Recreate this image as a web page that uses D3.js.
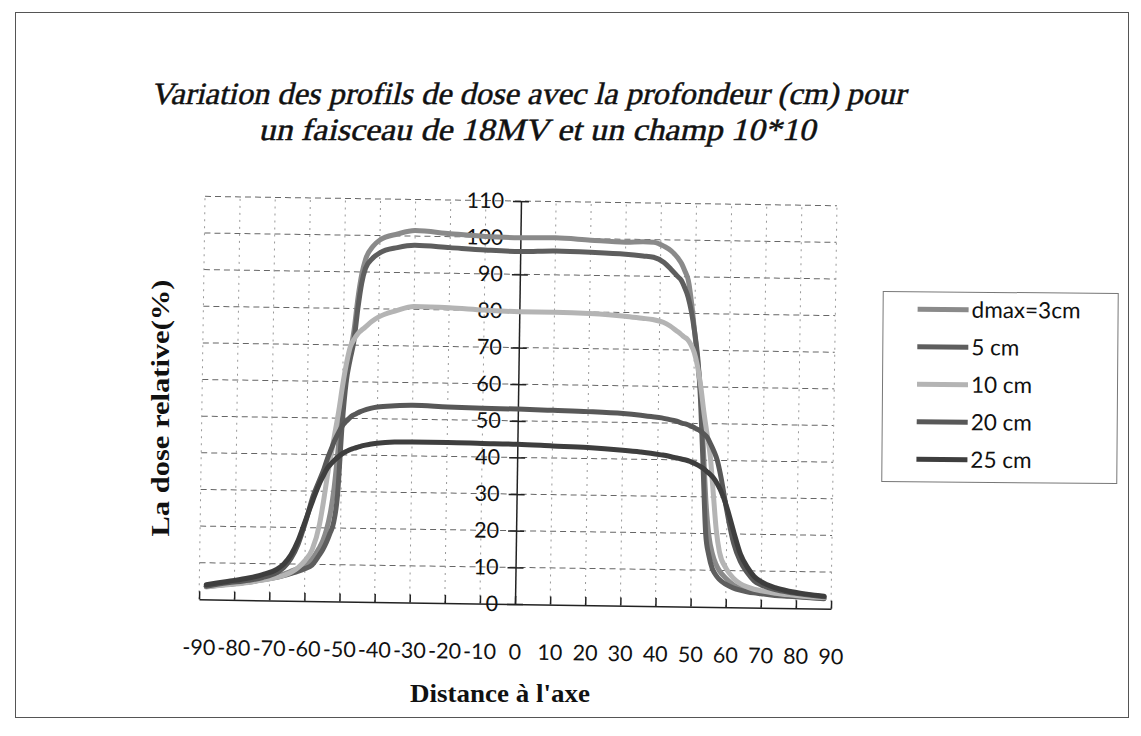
<!DOCTYPE html>
<html>
<head>
<meta charset="utf-8">
<script src="https://cdn.jsdelivr.net/npm/d3@7"></script>
<style>
  html, body { margin: 0; padding: 0; background: #fff; }
  svg { display: block; }
</style>
</head>
<body>
<script>
// Distance from the beam axis at which each profile is sampled
const positions = [-88,-82,-76,-72,-68,-66,-64,-62,-60,-58,-56,-55,-54,-53,-52,-51,-50,-49,-48,-47,-46,-45,-44,-42,-40,
  -35,-30,-20,-10,0,10,20,30,35,38,
  41,43,45,46,47,48,49,50,51,52,53,54,55,56,57,58,60,62,64,66,68,70,74,78,82,88];

// Relative dose (%) at each position, one array per depth
const doseDmax = [3.6,4.3,5,5.8,6.6,7.2,8,8.8,9.8,11.5,14.5,16.5,19.5,24,31,42,55,62,68,74,83,89.5,93.5,97,98.8,
  100.5,101.5,100.8,100.2,100,100.1,99.6,99.2,99.4,99.3,
  98.2,97,95,93.6,91.5,89,83,75,67,58,43,28,19,14.5,11.8,10,7.8,6.2,5.3,4.7,4.3,4,3.6,3.3,3.1,2.8];
const dose5 = [3.5,4.2,4.9,5.6,6.3,6.8,7.4,8,8.8,9.8,12.5,14,16,18.5,21.5,29,48,60,66,71,80,87,91,93.8,95.3,
  96.8,97.5,97,96.5,96.2,96.5,96.3,95.9,95.5,95.2,
  93.8,92,90,89,87,84.5,80.5,75,68,56,38,20,14,10.5,8.8,7.6,6.2,5.3,4.7,4.3,4,3.8,3.4,3.2,3,2.7];
const dose10 = [3.4,4.1,4.8,5.5,6.3,6.9,7.7,9,11,14,21,27,34,40,46,52,59,65,69.5,71.5,73,74,74.8,76.5,77.8,
  79.6,80.8,80.6,80.1,79.8,79.8,79.6,79,78.5,78.2,
  77.5,76.5,75.1,74.4,73.6,72.9,71.5,69.3,65.5,60,53,47,41,31,21,15,10.5,8,6.5,5.6,5,4.6,4,3.6,3.3,3];
const dose20 = [3.6,4.6,5.4,6.2,7.6,9,11.5,15.5,21.5,28.5,33.5,36,39,41.5,44,46,47.8,49,50,50.8,51.3,51.8,52.2,52.8,53.2,
  53.6,53.8,53.5,53.3,53.2,53,52.8,52.4,52,51.7,
  51.4,51,50.6,50.3,50,49.8,49.4,49,48.5,48,47.2,46.3,44.5,42.5,40,36,26,17.5,12.5,9.5,7.3,6.2,5,4.3,3.8,3.2];
const dose25 = [4,5,6,7,8.5,10,12.5,16.5,22,27.5,32.5,34.5,36.3,37.5,38.5,39.4,40.2,40.8,41.3,41.7,42,42.3,42.6,43,43.3,
  43.7,43.8,43.8,43.7,43.6,43.3,43,42.4,42,41.7,
  41.3,41,40.6,40.4,40.2,40,39.7,39.3,38.9,38.4,37.8,37,36.2,35.2,33.8,32,27,20.5,14.5,11,8.5,7.1,5.5,4.6,4,3.4];

const seriesNames = ["dmax=3cm", "5 cm", "10 cm", "20 cm", "25 cm"];
const seriesValues = [doseDmax, dose5, dose10, dose20, dose25];
const seriesColors = ["#8a8a8a", "#5e5e5e", "#b4b4b4", "#585858", "#3e3e3e"];

const xTicks = d3.range(-90, 91, 10);
const yTicks = d3.range(0, 111, 10);

const titleLines = ["Variation des profils de dose avec la profondeur (cm) pour",
                    "un faisceau de 18MV et un champ 10*10"];
const xTitle = "Distance à l'axe";
const yTitle = "La dose relative(%)";

const W = 1141, H = 736;
const svg = d3.select("body").append("svg").attr("width", W).attr("height", H);

// Outer chart frame
svg.append("rect")
  .attr("x", 15.5).attr("y", 12.5).attr("width", 1113).attr("height", 705)
  .attr("fill", "none").attr("stroke", "#555").attr("stroke-width", 1);

// Title: upright serif, slanted and narrowed
const sans = "Lato, 'Open Sans', sans-serif";
const serif = "'Liberation Serif', 'DejaVu Serif', serif";
const titleWidths = [755, 557];
const titleX = [528, 537];
const titleY = [104, 140];
titleLines.forEach((t, i) => {
  svg.append("g")
    .attr("transform", `translate(${titleX[i]},${titleY[i]}) skewX(-13)`)
    .append("text")
    .attr("text-anchor", "middle")
    .attr("font-family", serif)
    .attr("font-size", 31).attr("fill", "#111")
    .attr("stroke", "#111").attr("stroke-width", 0.5)
    .attr("textLength", titleWidths[i]).attr("lengthAdjust", "spacingAndGlyphs")
    .text(t);
});

// Plot area (slightly tilted, like the printed page)
const x = d3.scaleLinear().domain([-90, 90]).range([199, 831]);
const y = d3.scaleLinear().domain([0, 110]).range([604, 201]);

const plot = svg.append("g").attr("transform", `rotate(0.85 ${x(0)} ${y(0)})`);

// Grid
plot.append("g").selectAll("line").data(yTicks.filter(v => v > 0)).join("line")
  .attr("x1", x(-90)).attr("x2", x(90))
  .attr("y1", d => y(d)).attr("y2", d => y(d))
  .attr("stroke", "#666").attr("stroke-width", 1).attr("stroke-dasharray", "6 4");
plot.append("g").selectAll("line").data(xTicks.filter(v => v !== 0)).join("line")
  .attr("x1", d => x(d)).attr("x2", d => x(d))
  .attr("y1", y(0)).attr("y2", y(110))
  .attr("stroke", "#999").attr("stroke-width", 1).attr("stroke-dasharray", "2 5");

// X axis (ticks pointing up into the plot)
const xAxis = plot.append("g")
  .attr("transform", `translate(0,${y(0)})`)
  .call(d3.axisBottom(x).tickValues(xTicks).tickSizeInner(-8).tickSizeOuter(0).tickFormat(d => String(d)));
xAxis.select(".domain").attr("stroke", "#222").attr("stroke-width", 1.5);
xAxis.selectAll(".tick line").attr("stroke", "#222").attr("stroke-width", 1.5);
xAxis.selectAll(".tick text")
  .attr("y", 48).attr("dy", "0.35em")
  .attr("font-family", sans).attr("font-size", 21.5).attr("fill", "#111");

// Y axis at x = 0 with crossing ticks
const yAxis = plot.append("g")
  .attr("transform", `translate(${x(0)},0)`)
  .call(d3.axisLeft(y).tickValues(yTicks).tickSizeInner(8).tickSizeOuter(0).tickPadding(9).tickFormat(d => String(d)));
yAxis.select(".domain").attr("stroke", "#222").attr("stroke-width", 1.5);
yAxis.selectAll(".tick line").attr("x1", 8).attr("stroke", "#222").attr("stroke-width", 1.5);
yAxis.selectAll(".tick text")
  .attr("font-family", sans).attr("font-size", 21.5).attr("fill", "#111");

// Dose profiles
const line = d3.line()
  .x(d => x(d[0])).y(d => y(d[1]))
  .curve(d3.curveMonotoneX);
seriesValues.forEach((vals, i) => {
  plot.append("path")
    .datum(positions.map((p, j) => [p, vals[j]]))
    .attr("d", line)
    .attr("fill", "none")
    .attr("stroke", seriesColors[i])
    .attr("stroke-width", 5)
    .attr("stroke-linejoin", "round")
    .attr("stroke-linecap", "round");
});

// Axis titles
svg.append("text")
  .attr("x", 500).attr("y", 702)
  .attr("text-anchor", "middle")
  .attr("font-family", serif).attr("font-weight", "bold")
  .attr("font-size", 25).attr("fill", "#111")
  .attr("textLength", 180).attr("lengthAdjust", "spacingAndGlyphs")
  .text(xTitle);
svg.append("text")
  .attr("transform", "translate(169,408) rotate(-90)")
  .attr("text-anchor", "middle")
  .attr("font-family", serif).attr("font-weight", "bold")
  .attr("font-size", 26).attr("fill", "#111")
  .attr("textLength", 257).attr("lengthAdjust", "spacingAndGlyphs")
  .text(yTitle);

// Legend
const legend = svg.append("g").attr("transform", "rotate(0.45 1000 387)");
legend.append("rect")
  .attr("x", 882.5).attr("y", 292.5).attr("width", 235).attr("height", 190)
  .attr("fill", "#fff").attr("stroke", "#777").attr("stroke-width", 1);
const legendY = d3.scalePoint().domain(seriesNames).range([310, 460]);
seriesNames.forEach((name, i) => {
  legend.append("line")
    .attr("x1", 917).attr("x2", 968)
    .attr("y1", legendY(name)).attr("y2", legendY(name))
    .attr("stroke", seriesColors[i]).attr("stroke-width", 5);
  legend.append("text")
    .attr("x", 971).attr("y", legendY(name)).attr("dy", "0.35em")
    .attr("font-family", sans).attr("font-size", 22.5).attr("fill", "#111")
    .text(name);
});
</script>
</body>
</html>
